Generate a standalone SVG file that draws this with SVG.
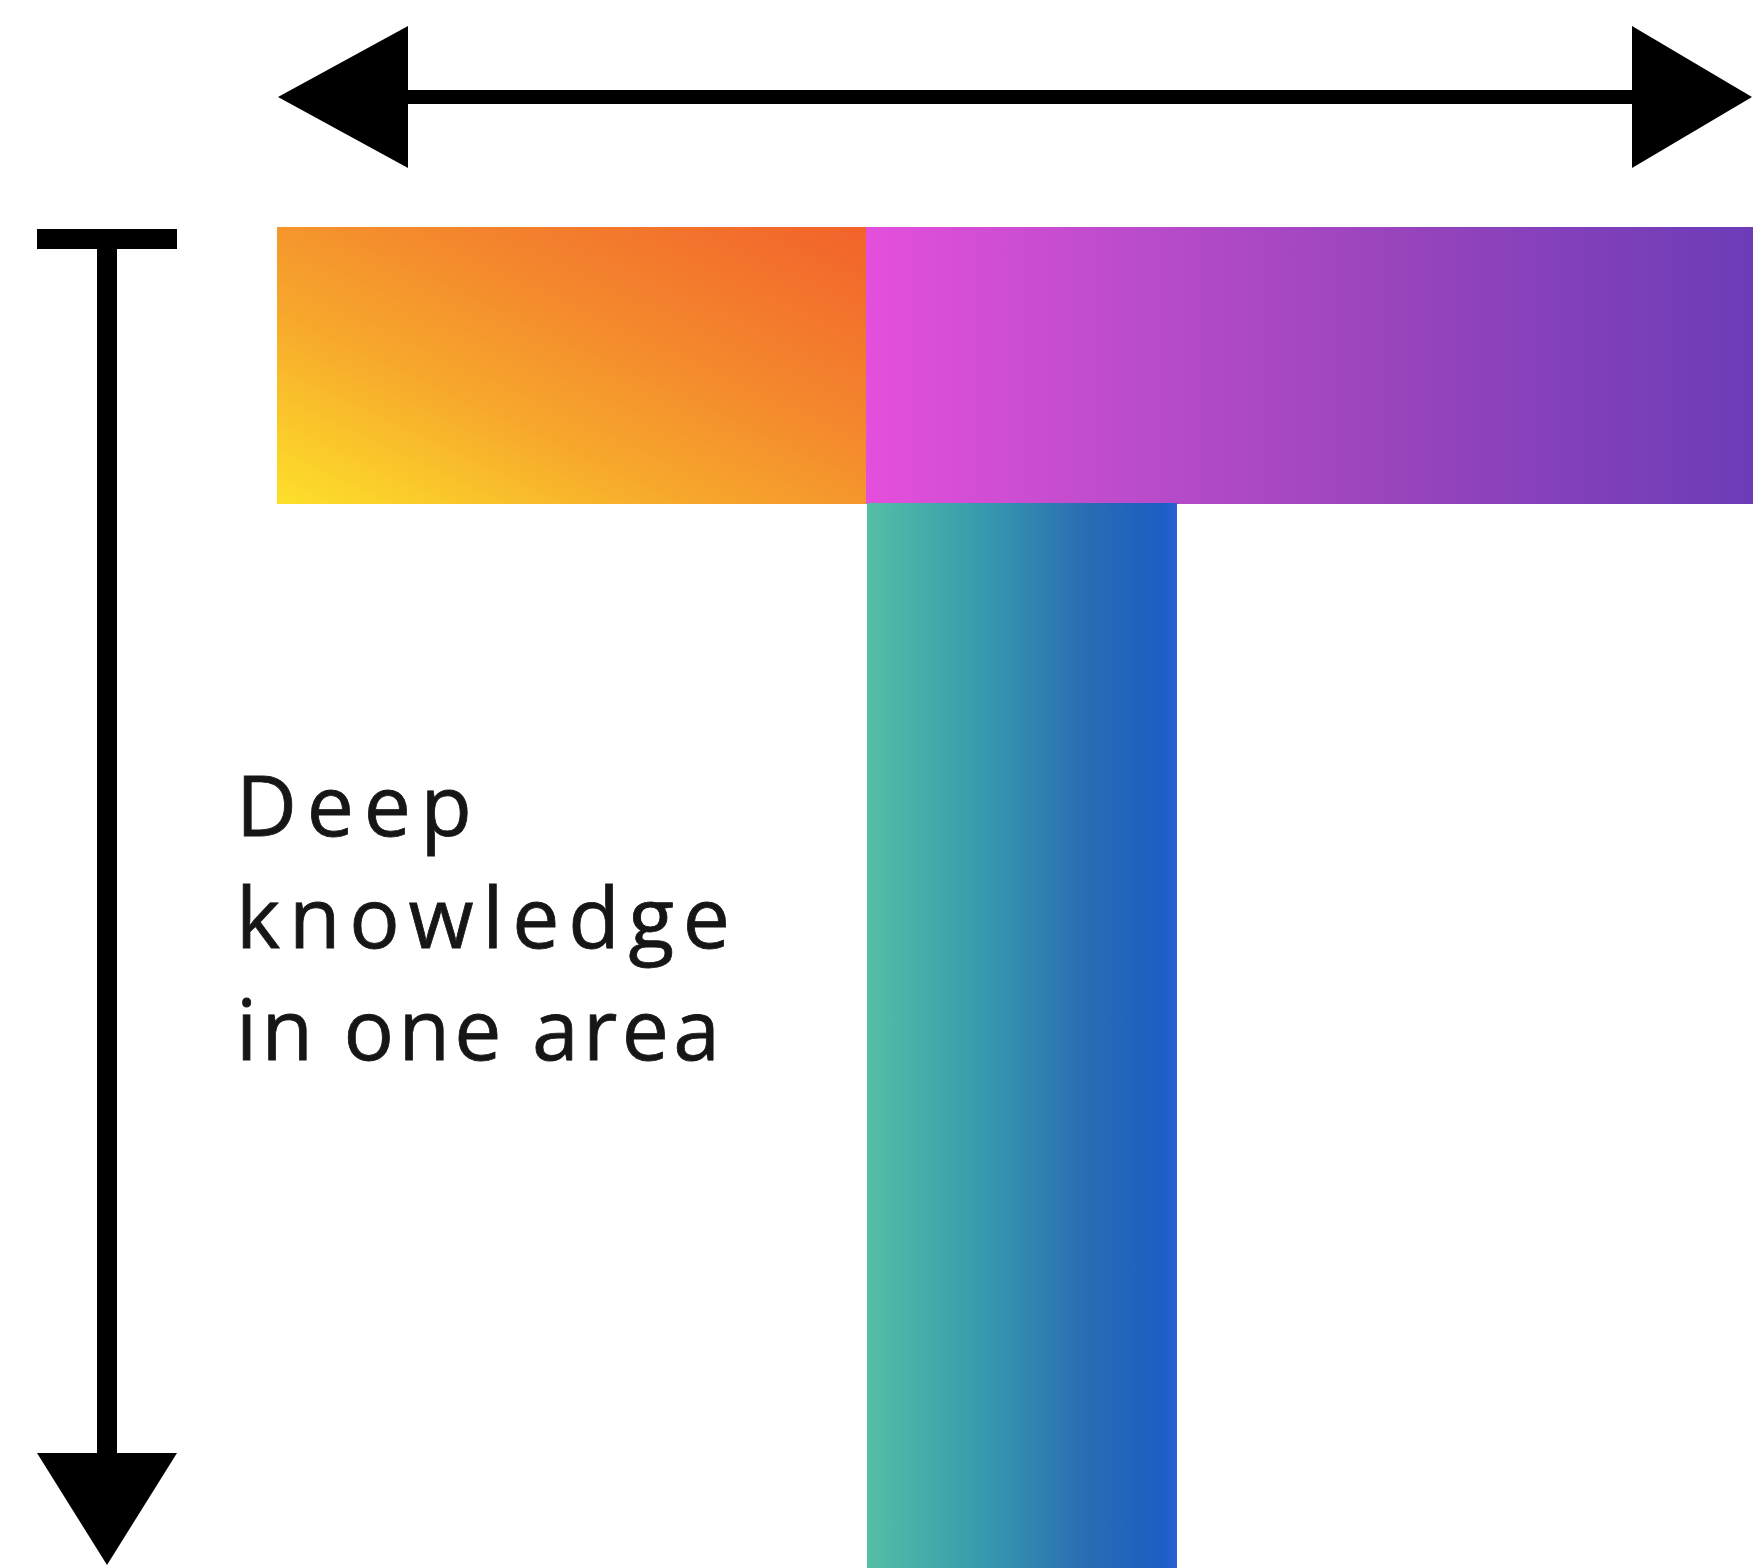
<svg xmlns="http://www.w3.org/2000/svg" width="1753" height="1568" viewBox="0 0 1753 1568">
<style>
.conn{stroke:#000;fill:none;}
.label{font-family:"Open Sans","Liberation Sans",sans-serif;font-size:84px;font-weight:400;fill:#161616;stroke:#161616;stroke-width:0.8px;}
</style>
<defs>
<marker id="headL" viewBox="0 0 130 142" refX="0" refY="71" markerWidth="130" markerHeight="142" markerUnits="userSpaceOnUse" orient="auto-start-reverse">
<path d="M0,0 L130,71 L0,142 Z" fill="#000"/>
</marker>
<marker id="headR" viewBox="0 0 120 142" refX="0" refY="71" markerWidth="120" markerHeight="142" markerUnits="userSpaceOnUse" orient="auto">
<path d="M0,0 L120,71 L0,142 Z" fill="#000"/>
</marker>
<marker id="headD" viewBox="0 0 112 140" refX="0" refY="70" markerWidth="112" markerHeight="140" markerUnits="userSpaceOnUse" orient="auto">
<path d="M0,0 L112,70 L0,140 Z" fill="#000"/>
</marker>
<linearGradient id="gOrange" x1="0" y1="1" x2="1" y2="0">
<stop offset="0" stop-color="#fde02a"/>
<stop offset="0.35" stop-color="#f7a82c"/>
<stop offset="0.6" stop-color="#f48a2d"/>
<stop offset="1" stop-color="#f2622b"/>
</linearGradient>
<linearGradient id="gPurple" x1="0" y1="0" x2="1" y2="0">
<stop offset="0" stop-color="#e44fdc"/>
<stop offset="0.3" stop-color="#bb4ccb"/>
<stop offset="0.6" stop-color="#9844bd"/>
<stop offset="1" stop-color="#6c3cb7"/>
</linearGradient>
<linearGradient id="gBlue" x1="0" y1="0" x2="1" y2="0">
<stop offset="0" stop-color="#55bea5"/>
<stop offset="0.4" stop-color="#3597ae"/>
<stop offset="0.7" stop-color="#2a6db3"/>
<stop offset="0.95" stop-color="#1b5ec3"/>
<stop offset="1" stop-color="#2c5fd8"/>
</linearGradient>
</defs>
<rect width="1753" height="1568" fill="#ffffff"/>
<g id="connectors">
<line class="conn" x1="408" y1="97" x2="1632" y2="97" stroke-width="14" marker-start="url(#headL)" marker-end="url(#headR)"/>
<line class="conn" x1="107" y1="232" x2="107" y2="1453" stroke-width="20" marker-end="url(#headD)"/>
<rect x="37" y="229" width="140" height="20" fill="#000"/>
</g>
<g id="bar-left">
<rect x="277" y="227" width="590" height="277" fill="url(#gOrange)"/>
</g>
<g id="bar-right">
<rect x="866" y="227" width="887" height="277" fill="url(#gPurple)"/>
</g>
<g id="stem">
<rect x="867" y="503" width="310" height="1065" fill="url(#gBlue)"/>
</g>
<g id="label">
<text class="label" x="236" y="836" textLength="236" lengthAdjust="spacing">Deep</text>
<text class="label" x="236" y="948" textLength="494" lengthAdjust="spacing">knowledge</text>
<text class="label" x="236" y="1060" textLength="484" lengthAdjust="spacing">in one area</text>
</g>
</svg>
